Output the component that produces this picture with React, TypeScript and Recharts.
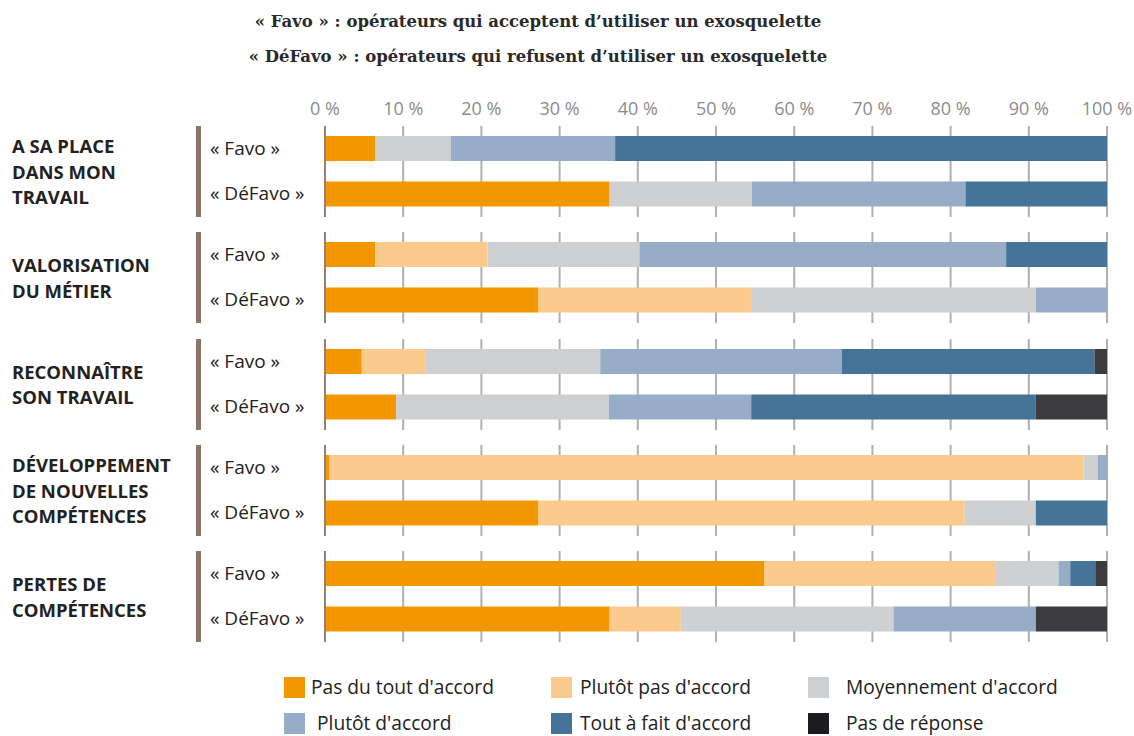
import { BarChart, Bar, XAxis, YAxis, CartesianGrid } from "recharts";

// group labels (one entry per line)
const GROUPS = [
  ["A SA PLACE", "DANS MON", "TRAVAIL"],
  ["VALORISATION", "DU MÉTIER"],
  ["RECONNAÎTRE", "SON TRAVAIL"],
  ["DÉVELOPPEMENT", "DE NOUVELLES", "COMPÉTENCES"],
  ["PERTES DE", "COMPÉTENCES"],
];

const ROWS = ["« Favo »", "« DéFavo »"];

const SERIES = [
  "Pas du tout d'accord",
  "Plutôt pas d'accord",
  "Moyennement d'accord",
  "Plutôt d'accord",
  "Tout à fait d'accord",
  "Pas de réponse",
];

const COLORS = ["#f39700", "#facb8c", "#cfd0d2", "#97acc7", "#467499", "#3c3c3e"];
const LEGEND_COLORS = ["#f39700", "#facb8c", "#cfd0d2", "#97acc7", "#467499", "#1c1b1f"];

// values in %, order: group1 Favo, group1 DéFavo, group2 Favo, ...
const pasDuTout = [6.4, 36.4, 6.4, 27.3, 4.7, 9.1, 0.6, 27.3, 56.2, 36.4];
const plutotPas = [0, 0, 14.4, 27.3, 8.1, 0, 96.4, 54.5, 29.6, 9.1];
const moyennement = [9.7, 18.2, 19.4, 36.3, 22.4, 27.2, 1.8, 9.1, 8.0, 27.2];
const plutot = [21.0, 27.3, 46.9, 9.1, 30.9, 18.2, 1.2, 0, 1.5, 18.2];
const toutAFait = [62.9, 18.1, 12.9, 0, 32.3, 36.4, 0, 9.1, 3.2, 0];
const pasDeReponse = [0, 0, 0, 0, 1.6, 9.1, 0, 0, 1.5, 9.1];

const X_TICKS = [0, 10, 20, 30, 40, 50, 60, 70, 80, 90, 100];

const SERIES_VALUES = [pasDuTout, plutotPas, moyennement, plutot, toutAFait, pasDeReponse];

const SANS = "'Open Sans', 'Noto Sans', sans-serif";
const GROUP_TOP = 126;
const GROUP_STEP = 106.25;
const GROUP_H = 91;
const AXIS_H = 32;

function groupData(g: number) {
  return ROWS.map((name, r) => {
    const row: Record<string, string | number> = { name };
    SERIES_VALUES.forEach((vals, s) => {
      row[`s${s}`] = vals[g * 2 + r];
    });
    return row;
  });
}

function RowTick(props: any) {
  const { y, payload } = props;
  return (
    <text x={10} y={y} dy={6} fontSize={19} fill="#222" fontFamily={SANS}>
      {payload.value}
    </text>
  );
}

function GroupChart({ g }: { g: number }) {
  const first = g === 0;
  const top = GROUP_TOP + g * GROUP_STEP - (first ? AXIS_H : 0);
  const height = GROUP_H + (first ? AXIS_H : 0);
  return (
    <div style={{ position: "absolute", left: 200, top, width: 934, height }}>
      <BarChart
        width={934}
        height={height}
        data={groupData(g)}
        layout="vertical"
        margin={{ top: 0, right: 27, bottom: 0, left: 0 }}
        barSize={25}
      >
        <CartesianGrid horizontal={false} stroke="#b0b0b0" strokeWidth={2} />
        <XAxis
          type="number"
          domain={[0, 100]}
          allowDataOverflow
          ticks={X_TICKS}
          orientation="top"
          hide={!first}
          height={AXIS_H}
          axisLine={false}
          tickLine={false}
          tickMargin={5}
          tickFormatter={(v) => `${v} %`}
          tick={{ fontSize: 18, fill: "#8c8c8c", fontFamily: SANS }}
          interval={0}
        />
        <YAxis
          type="category"
          dataKey="name"
          width={125}
          axisLine={{ stroke: "#9a7e72", strokeWidth: 2 }}
          tickLine={false}
          tick={<RowTick />}
        />
        {SERIES.map((s, i) => (
          <Bar
            key={s}
            dataKey={`s${i}`}
            name={s}
            stackId="a"
            fill={COLORS[i]}
            isAnimationActive={false}
          />
        ))}
      </BarChart>
    </div>
  );
}

const LEGEND_SQUARE_X = [284, 551, 808];
const LEGEND_TEXT_X = [[311, 580, 846], [317, 580, 846]];
const LEGEND_Y = [677, 713];

export default function App() {
  return (
    <div
      style={{
        position: "absolute",
        left: 0,
        top: 0,
        width: 1134,
        height: 736,
        background: "#fff",
        overflow: "hidden",
        color: "#222",
      }}
    >
      <div
        style={{
          position: "absolute",
          left: 0,
          width: 1076,
          top: 4,
          textAlign: "center",
          fontFamily: "'DejaVu Serif', serif",
          fontWeight: 700,
          fontSize: 16.5,
          lineHeight: "35px",
          color: "#2a2a2a",
        }}
      >
        <div>« Favo » : opérateurs qui acceptent d’utiliser un exosquelette</div>
        <div>« DéFavo » : opérateurs qui refusent d’utiliser un exosquelette</div>
      </div>

      {GROUPS.map((lines, g) => {
        const top = GROUP_TOP + g * GROUP_STEP;
        return (
          <div key={g}>
            <div
              style={{
                position: "absolute",
                left: 12,
                top,
                height: GROUP_H,
                display: "flex",
                flexDirection: "column",
                justifyContent: "center",
                fontFamily: SANS,
                fontWeight: 700,
                fontSize: 18.5,
                lineHeight: "25.5px",
                color: "#222",
              }}
            >
              {lines.map((l) => (
                <div key={l}>{l}</div>
              ))}
            </div>
            <div
              style={{
                position: "absolute",
                left: 196,
                top,
                width: 5,
                height: GROUP_H,
                background: "#8f7366",
              }}
            />
          </div>
        );
      })}

      {GROUPS.map((_, g) => (
        <GroupChart key={g} g={g} />
      ))}

      {SERIES.map((s, i) => {
        const row = Math.floor(i / 3);
        const col = i % 3;
        return (
          <div key={s}>
            <div
              style={{
                position: "absolute",
                left: LEGEND_SQUARE_X[col],
                top: LEGEND_Y[row],
                width: 21,
                height: 21,
                background: LEGEND_COLORS[i],
              }}
            />
            <div
              style={{
                position: "absolute",
                left: LEGEND_TEXT_X[row][col],
                top: LEGEND_Y[row] - 3,
                fontFamily: SANS,
                fontSize: 19.2,
                lineHeight: "25px",
                color: "#222",
                whiteSpace: "nowrap",
              }}
            >
              {s}
            </div>
          </div>
        );
      })}
    </div>
  );
}
